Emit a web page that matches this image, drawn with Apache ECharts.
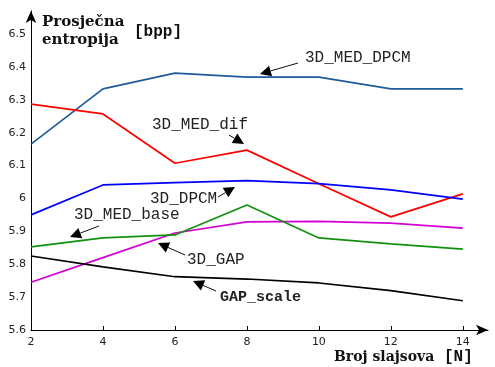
<!DOCTYPE html>
<html><head><meta charset="utf-8">
<script src="https://cdn.jsdelivr.net/npm/echarts@6/dist/echarts.min.js"></script>
<style>html,body{margin:0;padding:0;background:#fff}#c{width:495px;height:367px}</style>
</head><body><div id="c"></div>
<script>
const xValues = [2, 4, 6, 8, 10, 12, 14];
const xTicks = [2, 4, 6, 8, 10, 12, 14];
const yTicks = [5.6, 5.7, 5.8, 5.9, 6.0, 6.1, 6.2, 6.3, 6.4, 6.5];
const med_dpcm  = [6.165, 6.333, 6.381, 6.369, 6.369, 6.333, 6.333];
const med_dif   = [6.287, 6.257, 6.107, 6.147, 6.045, 5.944, 6.014];
const dpcm      = [5.950, 6.041, 6.048, 6.054, 6.045, 6.026, 5.998];
const med_base  = [5.745, 5.820, 5.895, 5.929, 5.930, 5.925, 5.910];
const gap3d     = [5.853, 5.880, 5.889, 5.980, 5.880, 5.862, 5.846];
const gap_scale = [5.825, 5.792, 5.762, 5.755, 5.743, 5.720, 5.689];
const seriesNames = ['3D_MED_DPCM','3D_MED_dif','3D_DPCM','3D_MED_base','3D_GAP','GAP_scale'];
const seriesData = [med_dpcm, med_dif, dpcm, med_base, gap3d, gap_scale];
const seriesColors = ['#1f5a99','#ff0000','#0000ff','#d400d4','#119011','#000000'];

const chart = echarts.init(document.getElementById('c'));
const mono = 'Liberation Mono, Courier New, monospace';
const serif = 'DejaVu Serif, Liberation Serif, serif';

function arrow(x1,y1,x2,y2){
  const dx=x2-x1, dy=y2-y1, L=Math.hypot(dx,dy), ux=dx/L, uy=dy/L;
  const hl=11, hw=5.5;
  const bx=x2-ux*hl, by=y2-uy*hl;
  return [
    {type:'line', shape:{x1:x1,y1:y1,x2:bx,y2:by}, style:{stroke:'#111',lineWidth:1}},
    {type:'polygon', shape:{points:[[x2,y2],[bx-uy*hw,by+ux*hw],[bx+uy*hw,by-ux*hw]]}, style:{fill:'#000'}}
  ];
}
function txt(x,y,t,font,fill){
  return {type:'text', x:x, y:y, style:{text:t, font:font, fill:fill||'#222', textVerticalAlign:'middle'}};
}

const graphics = [].concat(
  [txt(42,22,'Prosječna','bold 15px '+serif,'#111'),
   txt(42,40,'entropija','bold 15px '+serif,'#111'),
   txt(134,32,'[bpp]','bold 16px '+mono,'#111'),
   txt(334,357,'Broj slajsova','bold 14px '+serif,'#111'),
   txt(444,357,'[N]','bold 16px '+mono,'#111'),
   txt(305,58,'3D_MED_DPCM','16px '+mono),
   txt(152,125,'3D_MED_dif','16px '+mono),
   txt(150,199,'3D_DPCM','16px '+mono),
   txt(74,215,'3D_MED_base','16px '+mono),
   txt(187,260,'3D_GAP','16px '+mono),
   txt(220,297,'GAP_scale','bold 15px '+mono)],
  arrow(298,63,260,74),
  arrow(229,135,244,144),
  arrow(218,197,235,187),
  arrow(99,226,70,237),
  arrow(185,255,158,243),
  arrow(216,291,193,281)
);

chart.setOption({
  animation:false,
  backgroundColor:'#fff',
  grid:{left:31, right:7, top:11, bottom:37, containLabel:false},
  xAxis:{type:'value', min:2, max:14.7, interval:2,
    axisLine:{show:true, symbol:['none','arrow'], symbolSize:[8,12], lineStyle:{color:'#000', width:1}},
    axisTick:{show:true, inside:true, length:4, customValues:xTicks, lineStyle:{color:'#000'}},
    axisLabel:{customValues:xTicks, color:'#222', fontSize:11, fontFamily:'DejaVu Sans, sans-serif', margin:7},
    splitLine:{show:false}},
  yAxis:{type:'value', min:5.6, max:6.57, interval:0.1,
    axisLine:{show:true, symbol:['none','arrow'], symbolSize:[8,12], lineStyle:{color:'#000', width:1}},
    axisTick:{show:false},
    axisLabel:{customValues:yTicks, color:'#222', fontSize:11, fontFamily:'DejaVu Sans, sans-serif', margin:5,
      formatter:function(v){return String(Math.round(v*10)/10);}},
    splitLine:{show:false}},
  series: seriesNames.map(function(n,i){
    return {name:n, type:'line', data:xValues.map(function(x,j){return [x, seriesData[i][j]];}),
      symbol:'none', lineStyle:{color:seriesColors[i], width:1.7}, itemStyle:{color:seriesColors[i]}};
  }),
  graphic: graphics
});
</script></body></html>
